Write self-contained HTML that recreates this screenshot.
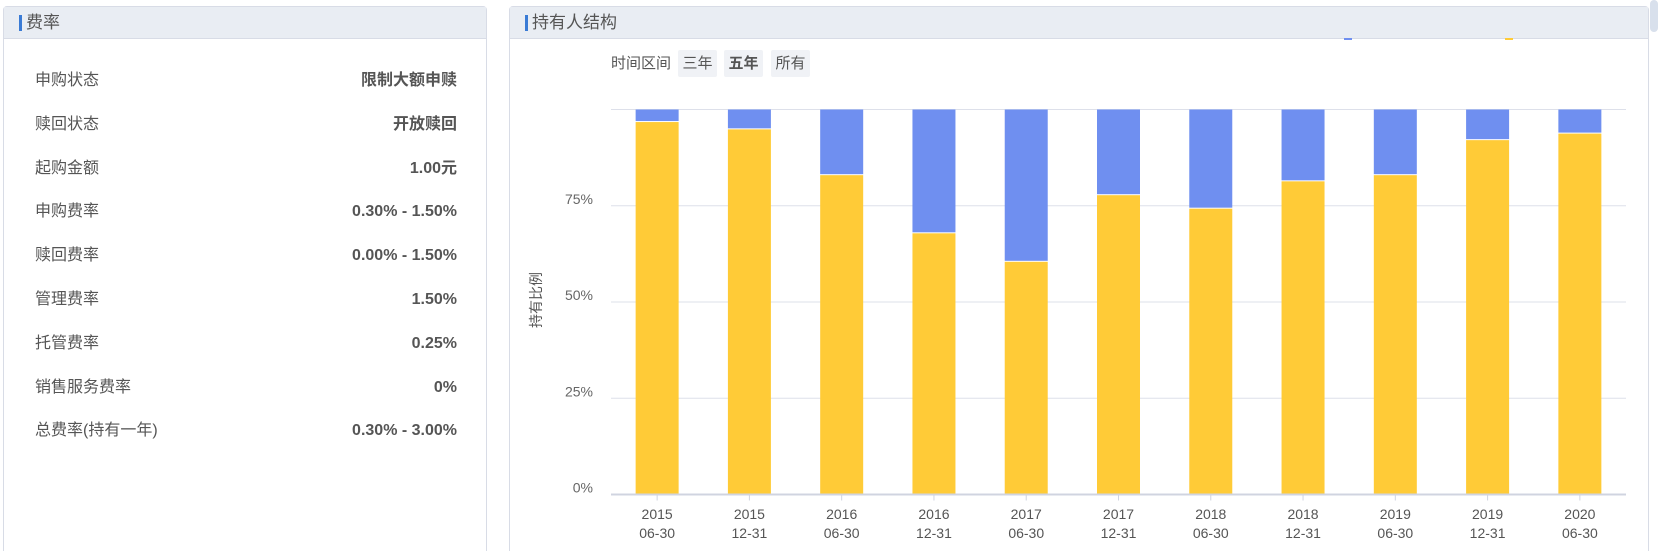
<!DOCTYPE html>
<html style="height:551px;overflow:hidden"><head><meta charset="utf-8">
<style>
html,body{margin:0;width:1663px;height:551px;overflow:hidden}
body{background:#fff;font-family:"Liberation Sans","Noto Sans CJK SC",sans-serif;position:relative}
.panel{position:absolute;top:6px;height:552px;border:1px solid #d8dce6;border-bottom:none;border-radius:4px 4px 0 0;background:#fff;box-sizing:border-box}
.hdr{height:31px;background:#e9edf3;border-bottom:1px solid #d8dce6;position:relative;font-size:17px;color:#555;line-height:31px;padding-left:22px}
.hdr:before{content:"";position:absolute;left:15px;top:8px;width:3px;height:16px;background:#3a7bd5}
.row{position:absolute;left:35px;font-size:16px;color:#555;height:24px;line-height:24px}
.row .v{position:absolute;right:0;top:0;font-weight:bold}
.btn{position:absolute;top:50px;height:27px;line-height:27px;font-size:15px;color:#555;background:#f0f2f6;border-radius:2px;text-align:center;width:39px}
</style></head><body>
<div class="panel" style="left:3px;width:484px">
  <div class="hdr">费率</div>
</div>
<div id="rows"></div>
<div class="panel" style="left:509px;width:1140px">
  <div class="hdr">持有人结构</div>
</div>
<div style="position:absolute;left:1650px;top:0;width:8px;height:32px;background:#d8e0ec;border-radius:4px"></div>
<div style="position:absolute;left:611px;top:50px;height:27px;line-height:27px;font-size:15px;color:#555">时间区间</div>
<div class="btn" style="left:678px">三年</div>
<div class="btn" style="left:724px;font-weight:bold">五年</div>
<div class="btn" style="left:771px">所有</div>
<div style="position:absolute;left:1344px;top:38px;width:8px;height:2px;background:#6f8ff0"></div>
<div style="position:absolute;left:1505px;top:38px;width:8px;height:2px;background:#ffcb37"></div>
<svg id="chart" width="1663" height="551" style="position:absolute;left:0;top:0"></svg>
<script>
const feeLabels=["申购状态","赎回状态","起购金额","申购费率","赎回费率","管理费率","托管费率","销售服务费率","总费率(持有一年)"];
const feeValues=["限制大额申赎","开放赎回","1.00元","0.30% - 1.50%","0.00% - 1.50%","1.50%","0.25%","0%","0.30% - 3.00%"];
const rows=document.getElementById('rows');
feeLabels.forEach((l,i)=>{
  const d=document.createElement('div');d.className='row';
  d.style.top=(69+i*43.8)+'px';d.style.width='422px';
  
  
  d.innerHTML=l+'<span class="v">'+feeValues[i]+'</span>';
  rows.appendChild(d);
});

const categories=["2015\n06-30","2015\n12-31","2016\n06-30","2016\n12-31","2017\n06-30","2017\n12-31","2018\n06-30","2018\n12-31","2019\n06-30","2019\n12-31","2020\n06-30"];
const individualPct=[97.0,95.1,83.2,68.1,60.7,78.0,74.5,81.6,83.2,92.3,94.0];
const yTicks=[0,25,50,75,100];
const yTickLabels=["0%","25%","50%","75%",""];

const svg=document.getElementById('chart');
const NS='http://www.w3.org/2000/svg';
const L=611,R=1626,T=109.5,B=494.5;
const band=(R-L)/categories.length, bw=43;
const y=v=>B-(B-T)*v/100;
const xc=i=>L+band*(i+0.5);
function mk(t,a){const e=document.createElementNS(NS,t);for(const k in a)e.setAttribute(k,a[k]);svg.appendChild(e);return e;}
yTicks.forEach((t,i)=>{
  const g=mk('line',{x1:L,x2:R,y1:y(t),y2:y(t),stroke:t===0?'#d0d4e0':'#dde0ea','stroke-width':t===0?2:1});
  
  
  if(yTickLabels[i]){const tx=mk('text',{x:593,y:y(t)-2,'text-anchor':'end','font-size':14,fill:'#666'});tx.textContent=yTickLabels[i];
  
  }
});
const yt=mk('text',{x:0,y:0,transform:'translate(541,300) rotate(-90)','text-anchor':'middle','font-size':14,fill:'#555'});
yt.textContent='持有比例';


categories.forEach((c,i)=>{
  const x=xc(i)-bw/2;
  const b1=mk('rect',{x:x,y:y(100),width:bw,height:y(individualPct[i])-y(100),fill:'#6f8ff0'});
  
  
  const b2=mk('rect',{x:x,y:y(individualPct[i])+1,width:bw,height:B-y(individualPct[i])-2,fill:'#ffcb37'});
  
  
  mk('line',{x1:xc(i),x2:xc(i),y1:B,y2:B+6,stroke:'#d0d4e0'});
  const p=c.split('\n');
  p.forEach((s,j)=>{const t=mk('text',{x:xc(i),y:519+j*19,'text-anchor':'middle','font-size':14,fill:'#555'});t.textContent=s;
  
  });
});
</script>
</body></html>
